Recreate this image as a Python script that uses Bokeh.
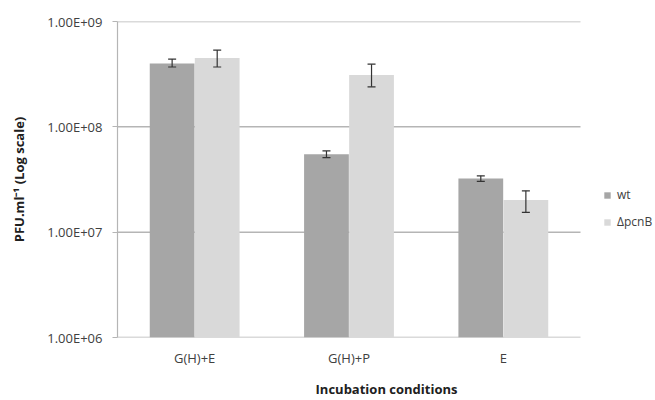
from bokeh.plotting import figure
from bokeh.models import (ColumnDataSource, FixedTicker, CustomJSTickFormatter,
                          Whisker, TeeHead, Legend, LegendItem, Range1d)
from bokeh.embed import file_html
from bokeh.resources import INLINE

categories = ["G(H)+E", "G(H)+P", "E"]
series_names = ["wt", "ΔpcnB"]
wt = [4.0e8, 5.5e7, 3.24e7]
wt_lo = [3.7e8, 5.1e7, 3.03e7]
wt_hi = [4.4e8, 5.9e7, 3.43e7]
dp = [4.5e8, 3.1e8, 2.02e7]
dp_lo = [3.7e8, 2.4e8, 1.54e7]
dp_hi = [5.35e8, 3.93e8, 2.47e7]
y_ticks = [1e6, 1e7, 1e8, 1e9]

FONT = "Open Sans"
TXT = "#404040"
GRID = "#b5b5b5"

# layout in pixels
W, H = 655, 400
FL, FR, FT, FB = 117, 580, 21, 337   # plot area in the reference
n = len(categories)
x_end = n * (W - FL) / (FR - FL)      # frame runs to the right edge so the legend fits

xc = [i + 0.5 for i in range(n)]
off = 0.146
bw = 0.29
src = ColumnDataSource(dict(xc=xc, x1=[x - off for x in xc], x2=[x + off for x in xc],
                            wt=wt, wt_lo=wt_lo, wt_hi=wt_hi, dp=dp, dp_lo=dp_lo, dp_hi=dp_hi))

p = figure(width=W, height=H, x_range=Range1d(0, x_end), y_axis_type="log",
           y_range=Range1d(1e6, 1e9), output_backend="svg", toolbar_location=None,
           min_border_left=FL, min_border_right=0, min_border_top=FT,
           min_border_bottom=H - FB)

# horizontal gridlines (incl. the baseline) spanning only the category area
p.segment(x0=[0] * len(y_ticks), x1=[n] * len(y_ticks), y0=y_ticks, y1=y_ticks,
          line_color=GRID, line_width=1.5)

r1 = p.vbar(x="x1", top="wt", bottom=1e6, width=bw, source=src,
            fill_color="#a6a6a6", line_color=None)
r2 = p.vbar(x="x2", top="dp", bottom=1e6, width=bw, source=src,
            fill_color="#d9d9d9", line_color=None)

for col, xcol in (("wt", "x1"), ("dp", "x2")):
    wk = Whisker(base=xcol, upper=col + "_hi", lower=col + "_lo", source=src,
                 line_color="#333333", line_width=1.2, level="annotation",
                 upper_head=TeeHead(size=8, line_color="#333333", line_width=1.2),
                 lower_head=TeeHead(size=8, line_color="#333333", line_width=1.2))
    p.add_layout(wk)

p.yaxis.ticker = FixedTicker(ticks=y_ticks, minor_ticks=[])
p.yaxis.formatter = CustomJSTickFormatter(code="""
const s = tick.toExponential(2).split('e');
const e = parseInt(s[1]);
return s[0] + 'E' + (e < 0 ? '-' : '+') + String(Math.abs(e)).padStart(2, '0');
""")
p.yaxis.axis_line_color = GRID
p.yaxis.axis_line_width = 1.2
p.yaxis.major_tick_line_color = GRID
p.yaxis.major_tick_in = 0
p.yaxis.major_tick_out = 5
p.yaxis.minor_tick_line_color = None
p.yaxis.major_label_text_font = FONT
p.yaxis.major_label_text_font_size = "13px"
p.yaxis.major_label_text_color = TXT
p.yaxis.major_label_standoff = 10
p.yaxis.axis_label = "PFU.ml⁻¹ (Log scale)"
p.yaxis.axis_label_text_font = FONT
p.yaxis.axis_label_text_font_size = "13px"
p.yaxis.axis_label_text_font_style = "bold"
p.yaxis.axis_label_text_color = "#202020"
p.yaxis.axis_label_standoff = 16

p.xaxis.ticker = FixedTicker(ticks=xc, minor_ticks=[])
p.xaxis.major_label_overrides = {x: c for x, c in zip(xc, categories)}
p.xaxis.axis_line_color = None
p.xaxis.major_tick_line_color = None
p.xaxis.major_tick_out = 0
p.xaxis.major_tick_in = 0
p.xaxis.minor_tick_line_color = None
p.xaxis.major_label_text_font = FONT
p.xaxis.major_label_text_font_size = "13px"
p.xaxis.major_label_text_color = TXT
p.xaxis.major_label_standoff = 11
p.xaxis.axis_label = "Incubation conditions"
p.xaxis.axis_label_text_font = FONT
p.xaxis.axis_label_text_font_size = "13px"
p.xaxis.axis_label_text_font_style = "bold"
p.xaxis.axis_label_text_color = "#202020"
p.xaxis.axis_label_standoff = 10

p.xgrid.grid_line_color = None
p.ygrid.grid_line_color = None
p.outline_line_color = None

legend = Legend(items=[LegendItem(label=series_names[0], renderers=[r1]),
                       LegendItem(label=series_names[1], renderers=[r2])],
                location=(486, 107), glyph_width=8, glyph_height=8, spacing=10,
                label_text_font=FONT, label_text_font_size="12px", label_text_color=TXT,
                border_line_color=None, background_fill_alpha=0, padding=0, margin=0,
                label_standoff=6)
p.add_layout(legend, "center")

open("out.html", "w").write(file_html(p, INLINE))
